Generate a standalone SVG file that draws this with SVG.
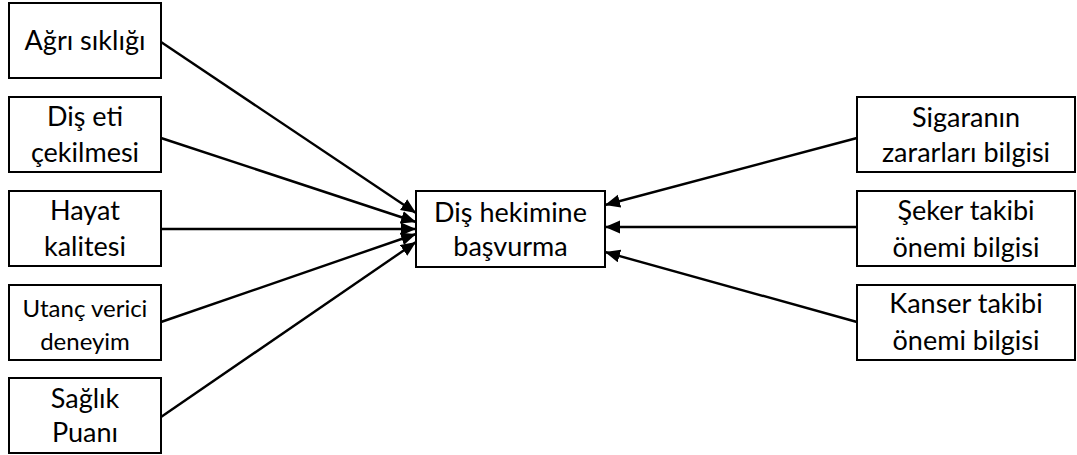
<svg xmlns="http://www.w3.org/2000/svg" width="1077" height="455" viewBox="0 0 1077 455">
<style>
rect{fill:#fff;stroke:#000;stroke-width:2}
text{font-family:Lato,"Liberation Sans",sans-serif;font-size:27px;fill:#000;text-anchor:middle}
.s{font-size:24px}
#edges line{stroke:#000;stroke-width:2.4;marker-end:url(#ah)}
</style>
<defs>
<marker id="ah" markerUnits="userSpaceOnUse" markerWidth="16" markerHeight="14" refX="15" refY="6.5" orient="auto"><path d="M0,0 L15,6.5 L0,13 z" fill="#000"/></marker>
</defs>
<rect x="0" y="0" width="1077" height="455" style="stroke:none"/>
<g id="edges">
<line x1="161" y1="42" x2="416" y2="213"/>
<line x1="161" y1="138" x2="416" y2="222"/>
<line x1="161" y1="229" x2="416" y2="229"/>
<line x1="161" y1="322" x2="416" y2="234"/>
<line x1="161" y1="417" x2="416" y2="242"/>
<line x1="857" y1="138" x2="605" y2="205"/>
<line x1="857" y1="227" x2="605" y2="227"/>
<line x1="857" y1="322" x2="605" y2="252"/>
</g>
<g id="n1"><rect x="9" y="3" width="152" height="75"/><text x="85" y="50">Ağrı sıklığı</text></g>
<g id="n2"><rect x="9" y="97" width="152" height="75"/><text x="85" y="126">Diş eti</text><text x="85" y="162">çekilmesi</text></g>
<g id="n3"><rect x="9" y="191" width="152" height="75"/><text x="85" y="220">Hayat</text><text x="85" y="256">kalitesi</text></g>
<g id="n4"><rect x="9" y="285" width="152" height="75"/><text class="s" x="85" y="317">Utanç verici</text><text class="s" x="85" y="350">deneyim</text></g>
<g id="n5"><rect x="9" y="378" width="152" height="75"/><text x="85" y="408">Sağlık</text><text x="85" y="442">Puanı</text></g>
<g id="center"><rect x="416" y="191" width="189" height="76"/><text x="510.5" y="222">Diş hekimine</text><text x="510.5" y="256">başvurma</text></g>
<g id="r1"><rect x="857" y="97" width="218" height="75"/><text x="966" y="127">Sigaranın</text><text x="966" y="162">zararları bilgisi</text></g>
<g id="r2"><rect x="857" y="191" width="218" height="75"/><text x="966" y="220">Şeker takibi</text><text x="966" y="257">önemi bilgisi</text></g>
<g id="r3"><rect x="857" y="285" width="218" height="75"/><text x="966" y="313">Kanser takibi</text><text x="966" y="350">önemi bilgisi</text></g>
</svg>
